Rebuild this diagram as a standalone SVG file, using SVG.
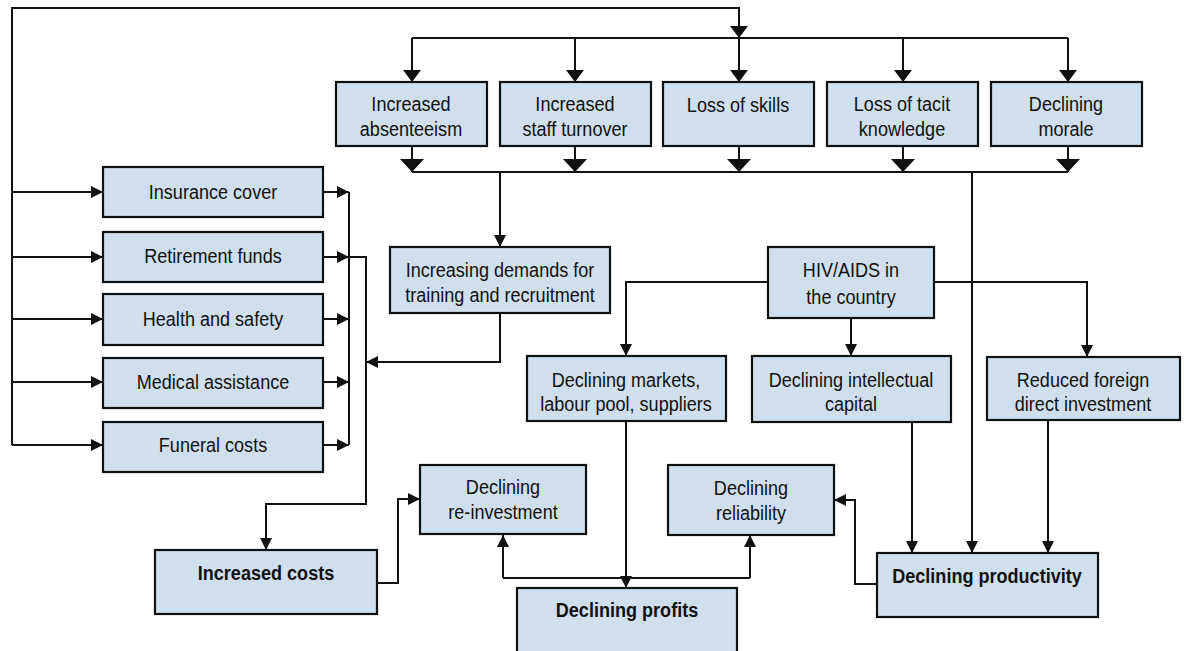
<svg xmlns="http://www.w3.org/2000/svg" width="1184" height="651" viewBox="0 0 1184 651">
  <style>
    .box { fill: #cfdfee; stroke: #111; stroke-width: 2.2; }
    .ln { fill: none; stroke: #111; stroke-width: 2; }
    .t { font-family: "Liberation Sans", Arial, sans-serif; font-size: 21px; fill: #111; text-anchor: middle; }
    .b { font-weight: bold; }
  </style>
  <defs>
    <marker id="ah" markerUnits="userSpaceOnUse" markerWidth="12" markerHeight="12" refX="12" refY="6" orient="auto">
      <path d="M0,0 L12,6 L0,12 z" fill="#111"/>
    </marker>
    <marker id="ahTop" markerUnits="userSpaceOnUse" markerWidth="12" markerHeight="18" refX="12" refY="9" orient="auto">
      <path d="M0,0 L12,9 L0,18 z" fill="#111"/>
    </marker>
    <marker id="ahWide" markerUnits="userSpaceOnUse" markerWidth="13" markerHeight="24" refX="13" refY="12" orient="auto">
      <path d="M0,0 L13,12 L0,24 z" fill="#111"/>
    </marker>
  </defs>

  <rect width="1184" height="651" fill="#fff"/>

  <!-- connectors -->
  <g id="connectors">
    <!-- feedback loop round the whole chart -->
    <path class="ln" d="M12,445 V8 H739 V38" marker-end="url(#ahTop)"/>
    <path class="ln" d="M12,192 H103" marker-end="url(#ah)"/>
    <path class="ln" d="M12,257 H103" marker-end="url(#ah)"/>
    <path class="ln" d="M12,319 H103" marker-end="url(#ah)"/>
    <path class="ln" d="M12,382 H103" marker-end="url(#ah)"/>
    <path class="ln" d="M12,445 H103" marker-end="url(#ah)"/>

    <!-- distribution bar above the top row -->
    <path class="ln" d="M412,38 H1068"/>
    <path class="ln" d="M412,38 V82" marker-end="url(#ahTop)"/>
    <path class="ln" d="M575,38 V82" marker-end="url(#ahTop)"/>
    <path class="ln" d="M739,38 V82" marker-end="url(#ahTop)"/>
    <path class="ln" d="M903,38 V82" marker-end="url(#ahTop)"/>
    <path class="ln" d="M1068,38 V82" marker-end="url(#ahTop)"/>

    <!-- collector bar below the top row -->
    <path class="ln" d="M412,172 H1068"/>
    <path class="ln" d="M412,146 V172" marker-end="url(#ahWide)"/>
    <path class="ln" d="M575,146 V172" marker-end="url(#ahWide)"/>
    <path class="ln" d="M739,146 V172" marker-end="url(#ahWide)"/>
    <path class="ln" d="M903,146 V172" marker-end="url(#ahWide)"/>
    <path class="ln" d="M1068,146 V172" marker-end="url(#ahWide)"/>
    <path class="ln" d="M500,172 V247" marker-end="url(#ah)"/>
    <path class="ln" d="M972,172 V553" marker-end="url(#ah)"/>

    <!-- cost items into increased costs -->
    <path class="ln" d="M323,192 H349" marker-end="url(#ah)"/>
    <path class="ln" d="M323,257 H349" marker-end="url(#ah)"/>
    <path class="ln" d="M323,319 H349" marker-end="url(#ah)"/>
    <path class="ln" d="M323,382 H349" marker-end="url(#ah)"/>
    <path class="ln" d="M323,445 H349" marker-end="url(#ah)"/>
    <path class="ln" d="M349,192 V445"/>
    <path class="ln" d="M349,257 H366 V504 H266 V550" marker-end="url(#ah)"/>
    <path class="ln" d="M500,313 V362 H366" marker-end="url(#ah)"/>

    <!-- HIV/AIDS branches -->
    <path class="ln" d="M768,282 H626 V356" marker-end="url(#ah)"/>
    <path class="ln" d="M934,282 H1087 V357" marker-end="url(#ah)"/>
    <path class="ln" d="M851,318 V356" marker-end="url(#ah)"/>
    <path class="ln" d="M912,422 V553" marker-end="url(#ah)"/>
    <path class="ln" d="M1048,420 V553" marker-end="url(#ah)"/>
    <path class="ln" d="M626,421 V588" marker-end="url(#ah)"/>

    <!-- bottom links -->
    <path class="ln" d="M503,578 H750"/>
    <path class="ln" d="M503,578 V535" marker-end="url(#ah)"/>
    <path class="ln" d="M750,578 V535" marker-end="url(#ah)"/>
    <path class="ln" d="M377,583 H398 V499 H420" marker-end="url(#ah)"/>
    <path class="ln" d="M877,584 H855 V500 H834" marker-end="url(#ah)"/>
  </g>

  <!-- top row -->
  <g id="absenteeism">
    <rect class="box" x="336" y="82" width="151" height="64"/>
    <text class="t" transform="translate(411 111) scale(0.86 1)">Increased</text>
    <text class="t" transform="translate(411 136) scale(0.86 1)">absenteeism</text>
  </g>
  <g id="turnover">
    <rect class="box" x="500" y="82" width="151" height="64"/>
    <text class="t" transform="translate(575 111) scale(0.86 1)">Increased</text>
    <text class="t" transform="translate(575 136) scale(0.86 1)">staff turnover</text>
  </g>
  <g id="skills">
    <rect class="box" x="663" y="82" width="151" height="64"/>
    <text class="t" transform="translate(738 112) scale(0.86 1)">Loss of skills</text>
  </g>
  <g id="tacit">
    <rect class="box" x="827" y="82" width="151" height="64"/>
    <text class="t" transform="translate(902 111) scale(0.86 1)">Loss of tacit</text>
    <text class="t" transform="translate(902 136) scale(0.86 1)">knowledge</text>
  </g>
  <g id="morale">
    <rect class="box" x="991" y="82" width="151" height="64"/>
    <text class="t" transform="translate(1066 111) scale(0.86 1)">Declining</text>
    <text class="t" transform="translate(1066 136) scale(0.86 1)">morale</text>
  </g>

  <!-- cost items -->
  <g id="insurance">
    <rect class="box" x="103" y="167" width="220" height="50"/>
    <text class="t" transform="translate(213 199) scale(0.86 1)">Insurance cover</text>
  </g>
  <g id="retirement">
    <rect class="box" x="103" y="232" width="220" height="50"/>
    <text class="t" transform="translate(213 263) scale(0.86 1)">Retirement funds</text>
  </g>
  <g id="health">
    <rect class="box" x="103" y="294" width="220" height="51"/>
    <text class="t" transform="translate(213 326) scale(0.86 1)">Health and safety</text>
  </g>
  <g id="medical">
    <rect class="box" x="103" y="358" width="220" height="50"/>
    <text class="t" transform="translate(213 389) scale(0.86 1)">Medical assistance</text>
  </g>
  <g id="funeral">
    <rect class="box" x="103" y="422" width="220" height="50"/>
    <text class="t" transform="translate(213 452) scale(0.86 1)">Funeral costs</text>
  </g>

  <!-- middle -->
  <g id="demands">
    <rect class="box" x="390" y="247" width="220" height="66"/>
    <text class="t" transform="translate(500 277) scale(0.86 1)">Increasing demands for</text>
    <text class="t" transform="translate(500 302) scale(0.86 1)">training and recruitment</text>
  </g>
  <g id="hiv">
    <rect class="box" x="768" y="247" width="166" height="71"/>
    <text class="t" transform="translate(851 277) scale(0.86 1)">HIV/AIDS in</text>
    <text class="t" transform="translate(851 304) scale(0.86 1)">the country</text>
  </g>
  <g id="markets">
    <rect class="box" x="527" y="356" width="199" height="65"/>
    <text class="t" transform="translate(626 387) scale(0.86 1)">Declining markets,</text>
    <text class="t" transform="translate(626 411) scale(0.86 1)">labour pool, suppliers</text>
  </g>
  <g id="intellectual">
    <rect class="box" x="752" y="356" width="199" height="66"/>
    <text class="t" transform="translate(851 387) scale(0.86 1)">Declining intellectual</text>
    <text class="t" transform="translate(851 411) scale(0.86 1)">capital</text>
  </g>
  <g id="fdi">
    <rect class="box" x="987" y="357" width="193" height="63"/>
    <text class="t" transform="translate(1083 387) scale(0.86 1)">Reduced foreign</text>
    <text class="t" transform="translate(1083 411) scale(0.86 1)">direct investment</text>
  </g>

  <!-- bottom -->
  <g id="reinvestment">
    <rect class="box" x="420" y="465" width="166" height="69"/>
    <text class="t" transform="translate(503 494) scale(0.86 1)">Declining</text>
    <text class="t" transform="translate(503 519) scale(0.86 1)">re-investment</text>
  </g>
  <g id="reliability">
    <rect class="box" x="668" y="465" width="166" height="70"/>
    <text class="t" transform="translate(751 495) scale(0.86 1)">Declining</text>
    <text class="t" transform="translate(751 520) scale(0.86 1)">reliability</text>
  </g>
  <g id="costs">
    <rect class="box" x="155" y="550" width="222" height="64"/>
    <text class="t b" transform="translate(266 580) scale(0.86 1)">Increased costs</text>
  </g>
  <g id="profits">
    <rect class="box" x="517" y="588" width="220" height="70"/>
    <text class="t b" transform="translate(627 617) scale(0.86 1)">Declining profits</text>
  </g>
  <g id="productivity">
    <rect class="box" x="877" y="553" width="221" height="64"/>
    <text class="t b" transform="translate(987 583) scale(0.86 1)">Declining productivity</text>
  </g>
</svg>
